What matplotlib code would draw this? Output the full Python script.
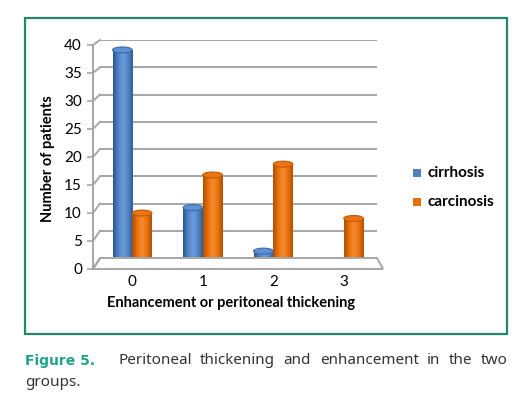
import numpy as np
import matplotlib
matplotlib.use("Agg")
import matplotlib.pyplot as plt
from matplotlib.patches import Rectangle, Ellipse, Polygon
from matplotlib.lines import Line2D
from matplotlib.colors import LinearSegmentedColormap
from matplotlib.transforms import IdentityTransform

# data
categories = ["0", "1", "2", "3"]
cirrhosis = [39, 10, 2, 0]
carcinosis = [9, 16, 18, 8]
series_names = ["cirrhosis", "carcinosis"]
y_ticks = [0, 5, 10, 15, 20, 25, 30, 35, 40]
x_title = "Enhancement or peritoneal thickening"
y_title = "Number of patients"
caption_head = "Figure 5."
caption_line1 = "Peritoneal thickening and enhancement in the two"
caption_line2 = "groups."

W, H = 526, 417
fig = plt.figure(figsize=(W / 100, H / 100), dpi=100)
fig.patch.set_facecolor("white")

chart_font = ["Lato", "DejaVu Sans"]
cap_font = ["Noto Sans", "DejaVu Sans"]
grid_col = "#a6a6a6"


def fx(x):
    return x / W


def fy(y):
    # pixel row from top -> figure fraction
    return 1 - y / H


def px_axes(left, right, row0, row40):
    a = fig.add_axes([left / W, (H - row0) / H, (right - left) / W, (row0 - row40) / H])
    a.set_xlim(-0.5, 3.5)
    a.set_ylim(0, 40)
    a.patch.set_visible(False)
    return a


# three planes: back wall, bar plane, front edge
ax_back = px_axes(100, 377, 258, 40)
ax = px_axes(97, 379, 262, 44.5)
ax_front = px_axes(93, 383, 269, 45)

# back wall grid
ax_back.axis("off")
ax_back.hlines(y_ticks, -0.5, 3.5, color=grid_col, lw=1.4, zorder=1)

# floor + left wall diagonals
def disp(a, x, y):
    return a.transData.transform((x, y))

floor = [disp(ax_front, -0.5, 0), disp(ax_front, 3.5, 0),
         disp(ax_back, 3.5, 0), disp(ax_back, -0.5, 0)]
fig.add_artist(Polygon(floor, closed=True, facecolor="white", edgecolor=grid_col,
                       lw=1.4, transform=IdentityTransform(), zorder=0.5))
for v in y_ticks:
    p0 = disp(ax_front, -0.5, v)
    p1 = disp(ax_back, -0.5, v)
    fig.add_artist(Line2D([p0[0], p1[0]], [p0[1], p1[1]], color=grid_col, lw=1.4,
                          transform=IdentityTransform(), zorder=0.5))

# front axis with tick labels
for s in ["top", "right", "bottom"]:
    ax_front.spines[s].set_visible(False)
ax_front.spines["left"].set_color(grid_col)
ax_front.spines["left"].set_linewidth(1.4)
ax_front.set_xticks([])
ax_front.set_yticks(y_ticks)
ax_front.tick_params(axis="y", length=4, width=1.2, color=grid_col, pad=4,
                     labelsize=11, labelcolor="black")
for lb in ax_front.get_yticklabels():
    lb.set_family(chart_font)

# bars as shaded cylinders
ax.axis("off")
x = np.arange(len(categories))
bw = 0.28
eh = 1.1  # ellipse height in data units

side_maps = {
    "cirrhosis": LinearSegmentedColormap.from_list(
        "b", ["#2a5690", "#4f82c4", "#6d9cdb", "#5587c8", "#2e5c98"]),
    "carcinosis": LinearSegmentedColormap.from_list(
        "o", ["#b04e00", "#e8700e", "#f78c2c", "#ea7210", "#b45000"]),
}
top_cols = {"cirrhosis": ("#5e90d3", "#3d6cab"), "carcinosis": ("#ec7414", "#c25a02")}
grad = np.linspace(0, 1, 64).reshape(1, -1)

for name, vals, off in [("cirrhosis", cirrhosis, -bw / 2), ("carcinosis", carcinosis, bw / 2)]:
    bars = ax.bar(x + off, vals, bw, color="none", zorder=2)
    for b, v in zip(bars, vals):
        if v <= 0:
            continue
        x0, x1 = b.get_x(), b.get_x() + b.get_width()
        xc = (x0 + x1) / 2
        bottom = Ellipse((xc, 0), bw, eh, facecolor="none", edgecolor="none")
        ax.add_patch(bottom)
        for clip in (b, bottom):
            im = ax.imshow(grad, cmap=side_maps[name], extent=(x0, x1, -eh / 2, v),
                           aspect="auto", zorder=2, interpolation="bilinear")
            im.set_clip_path(clip)
        fc, ec = top_cols[name]
        ax.add_patch(Ellipse((xc, v), bw, eh, facecolor=fc, edgecolor=ec, lw=0.8, zorder=3))
ax.set_xlim(-0.5, 3.5)
ax.set_ylim(0, 40)

# category labels
for i, c in enumerate(categories):
    px = ax.transData.transform((x[i], 0))[0]
    fig.text(px / W, fy(282), c, ha="center", va="center", fontsize=11, family=chart_font)

fig.text(fx(231), fy(303), x_title, ha="center", va="center", fontsize=10.5,
         fontweight="bold", family=chart_font)
fig.text(fx(48), fy(159), y_title, ha="center", va="center", rotation=90, fontsize=10.5,
         fontweight="bold", family=chart_font)

# legend
leg_cols = ["#4f81bd", "#e86d0c"]
for name, col, row in zip(series_names, leg_cols, [173, 202]):
    fig.add_artist(Rectangle((416.5 - 4, H - row - 4), 8, 8, facecolor=col, edgecolor="none",
                             transform=IdentityTransform()))
    fig.text(fx(428), fy(row), name, ha="left", va="center", fontsize=11,
             fontweight="bold", family=chart_font)

# frame round the chart
fig.add_artist(Rectangle((25, H - 334), 482, 316, facecolor="none", edgecolor="#24876f",
                         lw=1.6, transform=IdentityTransform()))

# caption, first line justified between x=118 and x=508
fig.text(fx(25), fy(361), caption_head, ha="left", va="center", fontsize=10,
         fontweight="bold", color="#1fa38b", family=["DejaVu Sans"])
words = caption_line1.split()
renderer = fig.canvas.get_renderer()
widths = []
for w in words:
    t = fig.text(0, 0, w, fontsize=11, family=cap_font)
    widths.append(t.get_window_extent(renderer).width)
    t.remove()
gap = (508 - 118 - sum(widths)) / (len(words) - 1)
xpos = 118
for w, wd in zip(words, widths):
    fig.text(fx(xpos), fy(361), w, ha="left", va="center", fontsize=11,
             color="#333333", family=cap_font)
    xpos += wd + gap
fig.text(fx(25), fy(382), caption_line2, ha="left", va="center", fontsize=11,
         color="#333333", family=cap_font)

fig.savefig("out.png", dpi=100)
